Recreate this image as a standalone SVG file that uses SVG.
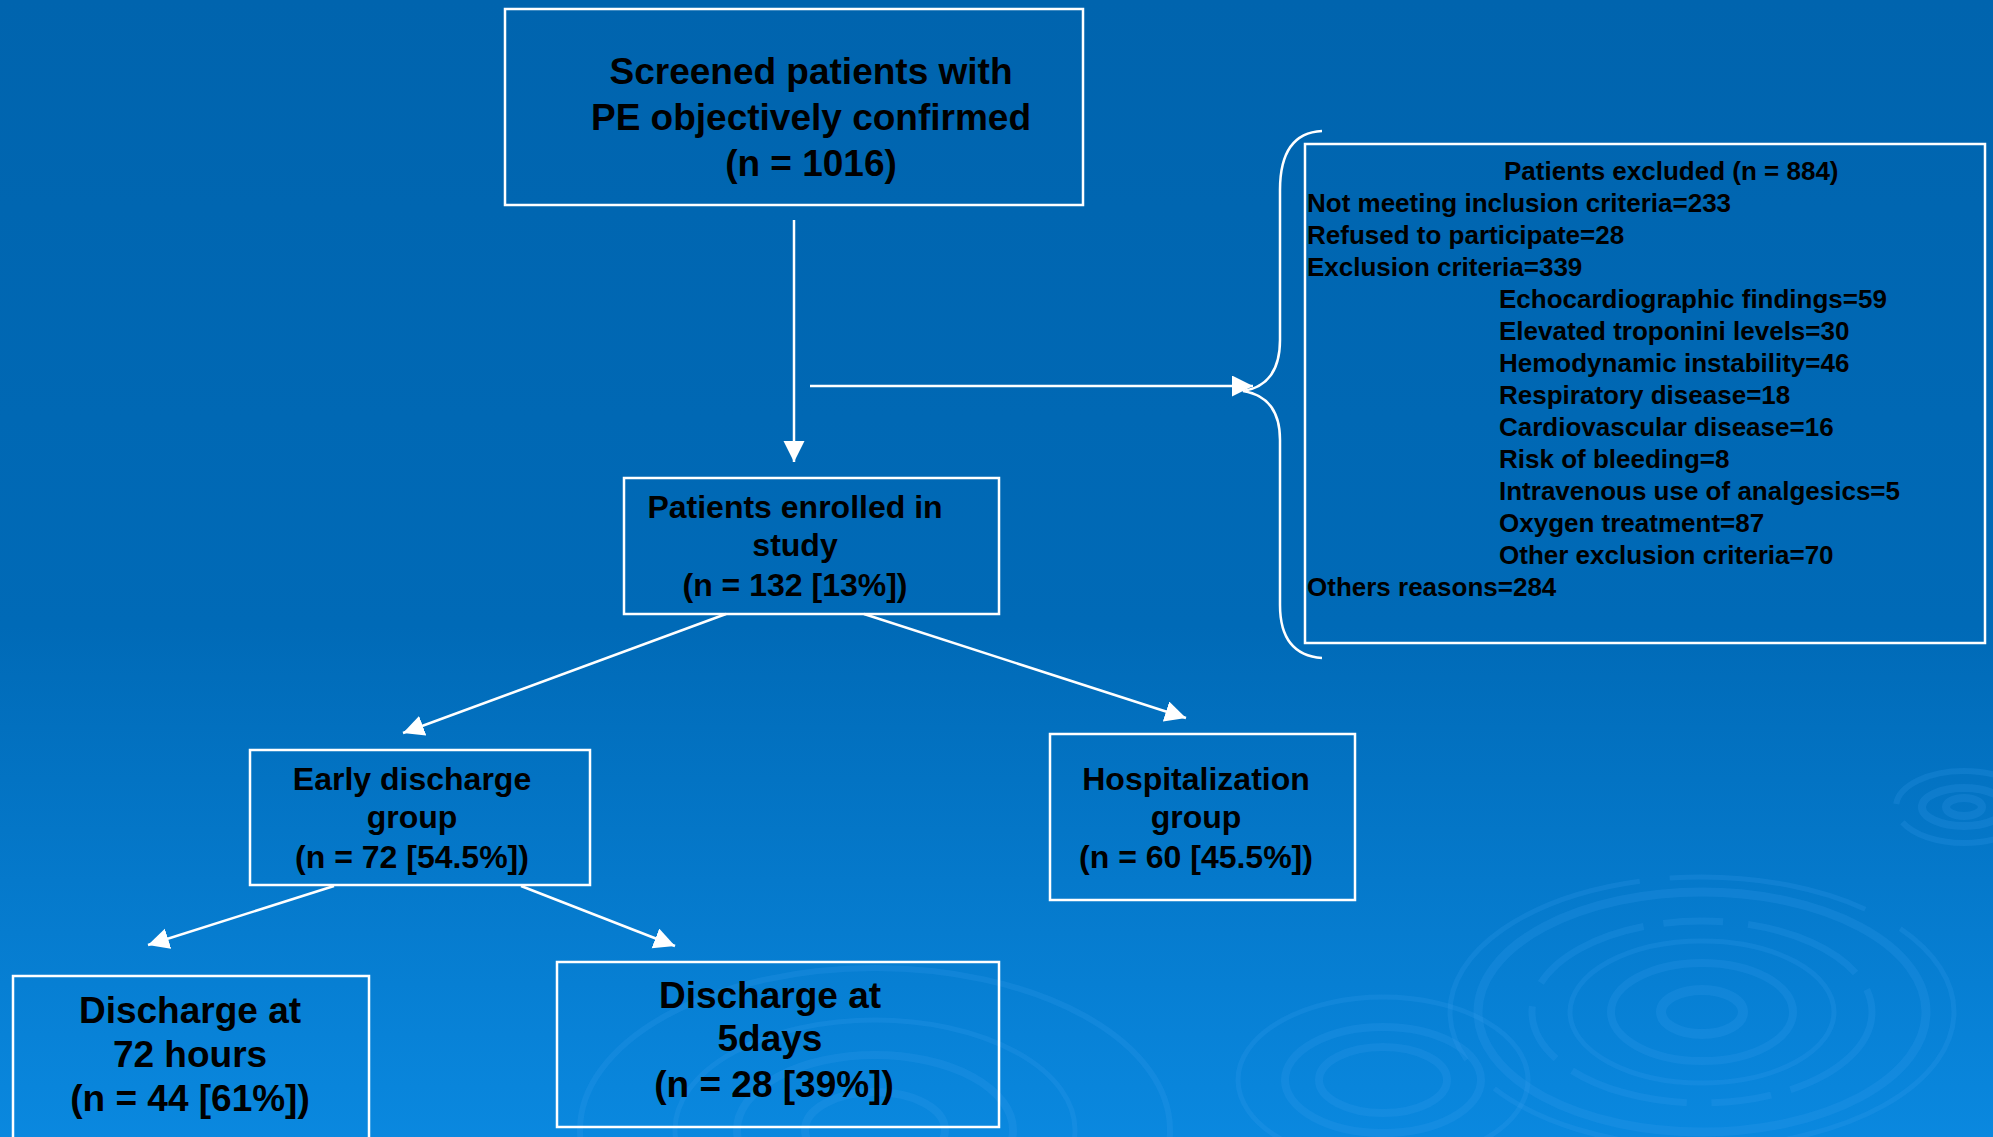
<svg xmlns="http://www.w3.org/2000/svg" width="1993" height="1137" viewBox="0 0 1993 1137">
<defs>
<linearGradient id="bg" x1="0" y1="0" x2="0" y2="1">
<stop offset="0" stop-color="#0064AE"/>
<stop offset="0.55" stop-color="#006AB7"/>
<stop offset="1" stop-color="#0A88DF"/>
</linearGradient>
<marker id="ah" markerUnits="userSpaceOnUse" markerWidth="22" markerHeight="22" refX="21" refY="10.5" orient="auto">
<path d="M0,0 L21,10.5 L0,21 z" fill="#fff"/>
</marker>
<style>
.box{fill:none;stroke:#fff;stroke-width:2.5}
.t{font-family:"Liberation Sans",Arial,sans-serif;font-weight:bold;fill:#000}
.c{text-anchor:middle}
.f37{font-size:37px}
.f32{font-size:32px}
.f26{font-size:26px}
.conn{stroke:#fff;stroke-width:2.5;fill:none}
.rip{fill:none;stroke:#3aa0f2;stroke-opacity:0.2}
</style>
</defs>
<rect width="1993" height="1137" fill="url(#bg)"/>

<g id="ripples">
<ellipse class="rip" cx="1702" cy="1012" rx="41" ry="22" stroke-width="10"/>
<ellipse class="rip" cx="1702" cy="1012" rx="91" ry="49" stroke-width="8"/>
<ellipse class="rip" cx="1702" cy="1012" rx="132" ry="71" stroke-width="5"/>
<ellipse class="rip" cx="1702" cy="1012" rx="170" ry="91" stroke-width="7" stroke-dasharray="120 20 60 25"/>
<ellipse class="rip" cx="1702" cy="1012" rx="224" ry="120" stroke-width="9"/>
<ellipse class="rip" cx="1702" cy="1012" rx="252" ry="135" stroke-width="5" stroke-dasharray="300 30 200 40"/>
<ellipse class="rip" cx="1383" cy="1080" rx="64" ry="33" stroke-width="8"/>
<ellipse class="rip" cx="1383" cy="1080" rx="98" ry="53" stroke-width="8"/>
<ellipse class="rip" cx="1383" cy="1080" rx="145" ry="83" stroke-width="5"/>
<ellipse class="rip" cx="875" cy="1130" rx="70" ry="38" stroke-width="8"/>
<ellipse class="rip" cx="875" cy="1130" rx="138" ry="75" stroke-width="8"/>
<ellipse class="rip" cx="875" cy="1130" rx="200" ry="110" stroke-width="5"/>
<ellipse class="rip" cx="875" cy="1130" rx="295" ry="162" stroke-width="6"/>
<ellipse class="rip" cx="1964" cy="807" rx="18" ry="9" stroke-width="8"/>
<ellipse class="rip" cx="1964" cy="807" rx="42" ry="19" stroke-width="8"/>
<ellipse class="rip" cx="1964" cy="807" rx="68" ry="36" stroke-width="6" stroke-dasharray="150 20"/>
</g>

<g id="connectors">
<line class="conn" x1="794" y1="220" x2="794" y2="462" marker-end="url(#ah)"/>
<line class="conn" x1="810" y1="386" x2="1253" y2="386" marker-end="url(#ah)"/>
<path class="conn" d="M1322,131 Q1280,133 1280,190 L1280,340 Q1280,385 1243,391 Q1280,397 1280,440 L1280,605 Q1280,655 1322,658"/>
<line class="conn" x1="726" y1="614" x2="403" y2="733" marker-end="url(#ah)"/>
<line class="conn" x1="864" y1="614" x2="1186" y2="718" marker-end="url(#ah)"/>
<line class="conn" x1="334" y1="886" x2="148" y2="945" marker-end="url(#ah)"/>
<line class="conn" x1="521" y1="886" x2="675" y2="946" marker-end="url(#ah)"/>
</g>

<g id="screened">
<rect class="box" x="505" y="9" width="578" height="196"/>
<text class="t c f37" x="811" y="84">Screened patients with</text>
<text class="t c f37" x="811" y="130">PE objectively confirmed</text>
<text class="t c f37" x="811" y="176">(n = 1016)</text>
</g>

<g id="excluded">
<rect class="box" x="1305" y="144" width="680" height="499"/>
<text class="t f26" x="1504" y="180">Patients excluded (n = 884)</text>
<text class="t f26" x="1307" y="212">Not meeting inclusion criteria=233</text>
<text class="t f26" x="1307" y="244">Refused to participate=28</text>
<text class="t f26" x="1307" y="276">Exclusion criteria=339</text>
<text class="t f26" x="1499" y="308">Echocardiographic findings=59</text>
<text class="t f26" x="1499" y="340">Elevated troponini levels=30</text>
<text class="t f26" x="1499" y="372">Hemodynamic instability=46</text>
<text class="t f26" x="1499" y="404">Respiratory disease=18</text>
<text class="t f26" x="1499" y="436">Cardiovascular disease=16</text>
<text class="t f26" x="1499" y="468">Risk of bleeding=8</text>
<text class="t f26" x="1499" y="500">Intravenous use of analgesics=5</text>
<text class="t f26" x="1499" y="532">Oxygen treatment=87</text>
<text class="t f26" x="1499" y="564">Other exclusion criteria=70</text>
<text class="t f26" x="1307" y="596">Others reasons=284</text>
</g>

<g id="enrolled">
<rect class="box" x="624" y="478" width="375" height="136"/>
<text class="t c f32" x="795" y="518">Patients enrolled in</text>
<text class="t c f32" x="795" y="556">study</text>
<text class="t c f32" x="795" y="596">(n = 132 [13%])</text>
</g>

<g id="early">
<rect class="box" x="250" y="750" width="340" height="135"/>
<text class="t c f32" x="412" y="790">Early discharge</text>
<text class="t c f32" x="412" y="828">group</text>
<text class="t c f32" x="412" y="868">(n = 72 [54.5%])</text>
</g>

<g id="hospitalization">
<rect class="box" x="1050" y="734" width="305" height="166"/>
<text class="t c f32" x="1196" y="790">Hospitalization</text>
<text class="t c f32" x="1196" y="828">group</text>
<text class="t c f32" x="1196" y="868">(n = 60 [45.5%])</text>
</g>

<g id="d72">
<rect class="box" x="13" y="976" width="356" height="175"/>
<text class="t c f37" x="190" y="1023">Discharge at</text>
<text class="t c f37" x="190" y="1067">72 hours</text>
<text class="t c f37" x="190" y="1111">(n = 44 [61%])</text>
</g>

<g id="d5">
<rect class="box" x="557" y="962" width="442" height="165"/>
<text class="t c f37" x="770" y="1008">Discharge at</text>
<text class="t c f37" x="770" y="1051">5days</text>
<text class="t c f37" x="774" y="1097">(n = 28 [39%])</text>
</g>
</svg>
